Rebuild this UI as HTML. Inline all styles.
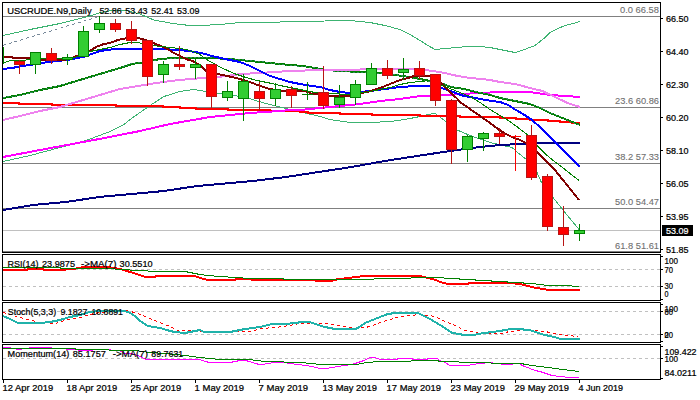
<!DOCTYPE html>
<html><head><meta charset="utf-8"><title>USCRUDE.N9 Daily</title>
<style>html,body{margin:0;padding:0;background:#fff}body{width:700px;height:400px;overflow:hidden}</style></head>
<body>
<svg width="700" height="400" viewBox="0 0 700 400" shape-rendering="crispEdges" font-family="Liberation Sans, sans-serif" style="display:block">
<rect width="700" height="400" fill="#fff"/>
<defs><clipPath id="cm"><rect x="3" y="3" width="657" height="249"/></clipPath></defs>
<g clip-path="url(#cm)">
<rect x="3" y="16" width="657" height="1" fill="#808080"/>
<rect x="3" y="107" width="657" height="1" fill="#808080"/>
<rect x="3" y="163" width="657" height="1" fill="#808080"/>
<rect x="3" y="208" width="657" height="1" fill="#808080"/>
<rect x="3" y="251" width="657" height="1" fill="#808080"/>
<rect x="3" y="230" width="657" height="1" fill="#C0C0C0"/>
<line x1="3" y1="45.3" x2="97" y2="17.1" stroke="#778899" stroke-width="1" stroke-dasharray="3,3"/>
<polyline points="3,35.5 30,29.5 60,23.5 91.6,15.5 95.2,14.5 100,12.5 106,11.5 112,10.5 119,10.5 126.4,10.5 133.6,12.5 138.4,13.5 143.2,15.5 148,17.5 155,20.5 162.4,21.5 172,23.5 190,25.5 200,25.5 220,24.5 240,22.5 260,22.5 300,21.5 350,20.5 370,22.5 385,25.5 400,29.5 410,34.5 420,40.5 428,45.5 435,49.5 445,48.5 458,47.5 466,46.5 480,46.5 490,47.5 505,50.5 515,52.5 522,50.5 527,48.5 535,45.5 545,37.5 550,32.5 558,28.5 565,25.5 573,23.5 580,21.5" fill="none" stroke="#3CB371" stroke-width="1" />
<polyline points="3,161.5 30,155.5 60,147.5 86,140.5 110,131.5 124,124.5 130,119.5 140,112.5 150,105.5 164,96.5 180,91.5 194,89.5 206,91.5 219,93.5 234,95.5 250,98.5 255,100.5 270,104.5 290,109.5 320,116.5 330,119.5 350,122.5 370,122.5 390,121.5 405,119.5 420,116.5 428,114.5 435,113.5 442,118.5 456,129.5 470,135.5 490,142.5 512,147.5 520,154.5 528,160.5 537,172.5 541,181.5 553,197.5 565,212.5 579,229.5" fill="none" stroke="#3CB371" stroke-width="1" />
<polyline points="3,210 33,205 66,202 99,197 131.5,194 164,191 197,186 220,184 253,181 286,177 318.7,172 351.6,167 368,164 384.5,161 417,156 450,151 480,147 500,145 520,144 540,143 580,143" fill="none" stroke="#000080" stroke-width="2" />
<polyline points="3,103 19,103 19,104 52,104 52,105 116,105 116,106 163,106 163,107 180,107 180,108 196,108 196,109 228,109 228,110 270,110 270,111 300,111 300,112 308,112 308,113 340,113 340,114 372,114 372,115 420,115 420,116 460,116 460,117 500,117 500,118 516,118 516,119 530,119 530,120 548,120 548,121 560,121 560,122 572,122 572,123 580,123" fill="none" stroke="#FF0000" stroke-width="2" />
<polyline points="3,157 40,150 94,140 130,133 140,131 170,124 210,117 240,114 250,113 280,111 291,110 300,110 320,108 340,106 360,104 380,101 400,99 420,96 430,96 450,95 460,94 500,92 530,92 550,95 580,97" fill="none" stroke="#FF00FF" stroke-width="2" />
<polyline points="3,98 20,95 40,90 60,86 80,80 100,74 120,68 132,64 145,62 160,59 175,58 190,58 210,58 230,59 260,62 290,65 303,66 315,68 325,70 340,71 360,72 380,73 395,75 410,77 420,79 430,81 441,83 451,87 464,89 476,92 490,95 500,98 515,101 530,104 540,108 550,113 560,117 570,121 580,125" fill="none" stroke="#008000" stroke-width="2" />
<polyline points="3,97.5 20,95.5 40,90.5 60,85.5 80,80.5 100,74.5 120,67.5 132,63.5 145,61.5 160,59.5 175,58.5 190,57.5 210,57.5 230,58.5 260,61.5 290,65.5 303,66.5 315,67.5 325,70.5 340,71.5 360,72.5 380,73.5 395,74.5 410,77.5 420,79.5 430,81.5 441,82.5 451,86.5 464,89.5 476,91.5 490,94.5 500,97.5 515,100.5 530,103.5 540,107.5 550,112.5 560,116.5 570,121.5 580,125.5" fill="none" stroke="#2E8B57" stroke-width="1" stroke-dasharray="2,2"/>
<polyline points="3,120 20,116 40,111 60,107 80,101 100,95 120,89 132,87 150,84 170,81 190,79 205,78 217,77 227.5,76 240,74 260,73 290,71 320,70 340,70 380,69 420,69 425,70 432.5,71 445,73 457.5,76 470,78 482.5,79 490,80 500,82 515,84 530,88 542.5,91 555,97 567.5,103 580,107" fill="none" stroke="#EE82EE" stroke-width="2" />
<polyline points="3,69 12,68 22,66 30,65 41,63 57,61 67,60 83,57 100,51 107,50 116,49 140,49 160,49 180,50 196,52 205,54 212,56 225,59 240,62 250,66 260,71 270,76 280,79 290,82 300,84 312,86 320,87 330,90 340,92 350,93 360,92 370,91 385,89 400,87 416,86 432,86 441,88 451,91 458,94 464,96 476,98 485,100 500,102 508,105 516,110 523,114 532,120 540,127 548,135 556,143 566,153 580,167" fill="none" stroke="#0000FF" stroke-width="2" />
<polyline points="4,57 12,57 13,58 30,58 40,60 62,60 70,59 74,57 77,56 83,54 90,51 96,47 104,44 110,43 118,40 127,38 137,38 142.5,39 153,43 161,46 167.5,49 174,53 180,56 186,59 192.5,61 196,63 202.5,67 206,71 211,73 217,74 227.5,76 240,79 252.5,83 260,86 270,89 282,91 298,91 305,91 312.5,94 320,94 330,96 350,96 355,96 362,93 371,91 380,88 390,84 400,80 408,78 414,76 422,76 430,76 435,78 441,83 449,91 457.5,99 460,102 470,109 480,116 490,123 498,129 504,133 512,137 520,140 526,143 535,150 544,159 554,169 563,180 571,190 579,200" fill="none" stroke="#800000" stroke-width="2" />
<polyline points="4,62.5 11,60.5 22,60.5 30,59.5 40,58.5 62,58.5 75,57.5 83,54.5 90,51.5 100,49.5 110,47.5 120,44.5 130,42.5 138,42.5 147,44.5 160,46.5 171,47.5 187,49.5 195,52.5 200,54.5 205,58.5 217,65.5 227.5,70.5 234,73.5 240,75.5 246,77.5 257,80.5 272,83.5 280,85.5 290,87.5 300,89.5 315,92.5 330,93.5 350,94.5 365,92.5 380,89.5 390,87.5 400,84.5 410,82.5 420,81.5 430,80.5 440,84.5 450,88.5 460,92.5 470,96.5 480,102.5 490,109.5 500,115.5 510,121.5 518,127.5 526,133.5 533,141.5 540,148.5 546,154.5 552,159.5 560,165.5 570,173.5 579,180.5" fill="none" stroke="#008000" stroke-width="1" />
<rect x="3" y="47" width="1" height="17" fill="#008000"/>
<rect x="19" y="60" width="1" height="14" fill="#B81414"/>
<rect x="14" y="61" width="11" height="4" fill="#B81414"/>
<rect x="15" y="62" width="9" height="2" fill="#FF0000"/>
<rect x="35" y="52" width="1" height="22" fill="#008000"/>
<rect x="30" y="52" width="11" height="13" fill="#008000"/>
<rect x="31" y="53" width="9" height="11" fill="#32CD32"/>
<rect x="51" y="48" width="1" height="16" fill="#B81414"/>
<rect x="46" y="53" width="11" height="8" fill="#B81414"/>
<rect x="47" y="54" width="9" height="6" fill="#FF0000"/>
<rect x="67" y="54" width="1" height="11" fill="#008000"/>
<rect x="62" y="57" width="11" height="3" fill="#008000"/>
<rect x="63" y="58" width="9" height="1" fill="#32CD32"/>
<rect x="83" y="26" width="1" height="31" fill="#008000"/>
<rect x="78" y="31" width="11" height="26" fill="#008000"/>
<rect x="79" y="32" width="9" height="24" fill="#32CD32"/>
<rect x="99" y="16" width="1" height="17" fill="#008000"/>
<rect x="94" y="23" width="11" height="7" fill="#008000"/>
<rect x="95" y="24" width="9" height="5" fill="#32CD32"/>
<rect x="115" y="19" width="1" height="13" fill="#B81414"/>
<rect x="110" y="23" width="11" height="7" fill="#B81414"/>
<rect x="111" y="24" width="9" height="5" fill="#FF0000"/>
<rect x="131" y="21" width="1" height="23" fill="#B81414"/>
<rect x="126" y="29" width="11" height="12" fill="#B81414"/>
<rect x="127" y="30" width="9" height="10" fill="#FF0000"/>
<rect x="147" y="40" width="1" height="46" fill="#B81414"/>
<rect x="142" y="40" width="11" height="37" fill="#B81414"/>
<rect x="143" y="41" width="9" height="35" fill="#FF0000"/>
<rect x="163" y="61" width="1" height="22" fill="#008000"/>
<rect x="158" y="64" width="11" height="11" fill="#008000"/>
<rect x="159" y="65" width="9" height="9" fill="#32CD32"/>
<rect x="179" y="46" width="1" height="24" fill="#B81414"/>
<rect x="174" y="64" width="11" height="3" fill="#B81414"/>
<rect x="175" y="65" width="9" height="1" fill="#FF0000"/>
<rect x="195" y="59" width="1" height="20" fill="#008000"/>
<rect x="190" y="64" width="11" height="4" fill="#008000"/>
<rect x="191" y="65" width="9" height="2" fill="#32CD32"/>
<rect x="211" y="64" width="1" height="44" fill="#B81414"/>
<rect x="206" y="64" width="11" height="33" fill="#B81414"/>
<rect x="207" y="65" width="9" height="31" fill="#FF0000"/>
<rect x="227" y="81" width="1" height="20" fill="#008000"/>
<rect x="222" y="91" width="11" height="7" fill="#008000"/>
<rect x="223" y="92" width="9" height="5" fill="#32CD32"/>
<rect x="243" y="74" width="1" height="47" fill="#008000"/>
<rect x="238" y="81" width="11" height="18" fill="#008000"/>
<rect x="239" y="82" width="9" height="16" fill="#32CD32"/>
<rect x="259" y="82" width="1" height="29" fill="#B81414"/>
<rect x="254" y="91" width="11" height="8" fill="#B81414"/>
<rect x="255" y="92" width="9" height="6" fill="#FF0000"/>
<rect x="275" y="83" width="1" height="23" fill="#008000"/>
<rect x="270" y="89" width="11" height="10" fill="#008000"/>
<rect x="271" y="90" width="9" height="8" fill="#32CD32"/>
<rect x="291" y="86" width="1" height="22" fill="#B81414"/>
<rect x="286" y="89" width="11" height="7" fill="#B81414"/>
<rect x="287" y="90" width="9" height="5" fill="#FF0000"/>
<rect x="307" y="82" width="1" height="18" fill="#008000"/>
<rect x="302" y="94" width="11" height="1" fill="#008000"/>
<rect x="323" y="66" width="1" height="43" fill="#B81414"/>
<rect x="318" y="92" width="11" height="14" fill="#B81414"/>
<rect x="319" y="93" width="9" height="12" fill="#FF0000"/>
<rect x="339" y="85" width="1" height="23" fill="#008000"/>
<rect x="334" y="97" width="11" height="8" fill="#008000"/>
<rect x="335" y="98" width="9" height="6" fill="#32CD32"/>
<rect x="355" y="80" width="1" height="25" fill="#008000"/>
<rect x="350" y="84" width="11" height="14" fill="#008000"/>
<rect x="351" y="85" width="9" height="12" fill="#32CD32"/>
<rect x="371" y="63" width="1" height="22" fill="#008000"/>
<rect x="366" y="68" width="11" height="17" fill="#008000"/>
<rect x="367" y="69" width="9" height="15" fill="#32CD32"/>
<rect x="387" y="60" width="1" height="19" fill="#B81414"/>
<rect x="382" y="68" width="11" height="8" fill="#B81414"/>
<rect x="383" y="69" width="9" height="6" fill="#FF0000"/>
<rect x="403" y="58" width="1" height="22" fill="#008000"/>
<rect x="398" y="69" width="11" height="4" fill="#008000"/>
<rect x="399" y="70" width="9" height="2" fill="#32CD32"/>
<rect x="419" y="61" width="1" height="18" fill="#B81414"/>
<rect x="414" y="68" width="11" height="8" fill="#B81414"/>
<rect x="415" y="69" width="9" height="6" fill="#FF0000"/>
<rect x="435" y="74" width="1" height="32" fill="#B81414"/>
<rect x="430" y="74" width="11" height="27" fill="#B81414"/>
<rect x="431" y="75" width="9" height="25" fill="#FF0000"/>
<rect x="451" y="99" width="1" height="65" fill="#B81414"/>
<rect x="446" y="100" width="11" height="50" fill="#B81414"/>
<rect x="447" y="101" width="9" height="48" fill="#FF0000"/>
<rect x="467" y="135" width="1" height="27" fill="#008000"/>
<rect x="462" y="136" width="11" height="14" fill="#008000"/>
<rect x="463" y="137" width="9" height="12" fill="#32CD32"/>
<rect x="483" y="132" width="1" height="19" fill="#008000"/>
<rect x="478" y="133" width="11" height="6" fill="#008000"/>
<rect x="479" y="134" width="9" height="4" fill="#32CD32"/>
<rect x="499" y="128" width="1" height="16" fill="#B81414"/>
<rect x="494" y="133" width="11" height="4" fill="#B81414"/>
<rect x="495" y="134" width="9" height="2" fill="#FF0000"/>
<rect x="515" y="135" width="1" height="36" fill="#FF0000"/>
<rect x="510" y="136" width="11" height="1" fill="#FF0000"/>
<rect x="531" y="125" width="1" height="55" fill="#B81414"/>
<rect x="526" y="135" width="11" height="43" fill="#B81414"/>
<rect x="527" y="136" width="9" height="41" fill="#FF0000"/>
<rect x="547" y="174" width="1" height="57" fill="#B81414"/>
<rect x="542" y="176" width="11" height="51" fill="#B81414"/>
<rect x="543" y="177" width="9" height="49" fill="#FF0000"/>
<rect x="563" y="206" width="1" height="40" fill="#B81414"/>
<rect x="558" y="227" width="11" height="8" fill="#B81414"/>
<rect x="559" y="228" width="9" height="6" fill="#FF0000"/>
<rect x="579" y="224" width="1" height="17" fill="#008000"/>
<rect x="574" y="230" width="11" height="4" fill="#008000"/>
<rect x="575" y="231" width="9" height="2" fill="#32CD32"/>
</g>
<rect x="2" y="2" width="659" height="1" fill="#000"/>
<rect x="2" y="252" width="659" height="1" fill="#000"/>
<rect x="2" y="2" width="1" height="251" fill="#000"/>
<rect x="660" y="2" width="1" height="251" fill="#000"/>
<rect x="2" y="254" width="659" height="1" fill="#000"/>
<rect x="2" y="300" width="659" height="1" fill="#000"/>
<rect x="2" y="254" width="1" height="47" fill="#000"/>
<rect x="660" y="254" width="1" height="47" fill="#000"/>
<rect x="2" y="302" width="659" height="1" fill="#000"/>
<rect x="2" y="342" width="659" height="1" fill="#000"/>
<rect x="2" y="302" width="1" height="41" fill="#000"/>
<rect x="660" y="302" width="1" height="41" fill="#000"/>
<rect x="2" y="344" width="659" height="1" fill="#000"/>
<rect x="2" y="379" width="659" height="1" fill="#000"/>
<rect x="2" y="344" width="1" height="36" fill="#000"/>
<rect x="660" y="344" width="1" height="36" fill="#000"/>
<rect x="661" y="18" width="2" height="1" fill="#000"/>
<text x="666" y="21.7" font-size="9.7" fill="#000" stroke="#000" stroke-width="0.24" text-anchor="start" textLength="22.5" lengthAdjust="spacingAndGlyphs" >66.50</text>
<rect x="661" y="51" width="2" height="1" fill="#000"/>
<text x="666" y="54.7" font-size="9.7" fill="#000" stroke="#000" stroke-width="0.24" text-anchor="start" textLength="22.5" lengthAdjust="spacingAndGlyphs" >64.40</text>
<rect x="661" y="84" width="2" height="1" fill="#000"/>
<text x="666" y="87.7" font-size="9.7" fill="#000" stroke="#000" stroke-width="0.24" text-anchor="start" textLength="22.5" lengthAdjust="spacingAndGlyphs" >62.30</text>
<rect x="661" y="117" width="2" height="1" fill="#000"/>
<text x="666" y="120.7" font-size="9.7" fill="#000" stroke="#000" stroke-width="0.24" text-anchor="start" textLength="22.5" lengthAdjust="spacingAndGlyphs" >60.20</text>
<rect x="661" y="150" width="2" height="1" fill="#000"/>
<text x="666" y="153.7" font-size="9.7" fill="#000" stroke="#000" stroke-width="0.24" text-anchor="start" textLength="22.5" lengthAdjust="spacingAndGlyphs" >58.10</text>
<rect x="661" y="183" width="2" height="1" fill="#000"/>
<text x="666" y="186.7" font-size="9.7" fill="#000" stroke="#000" stroke-width="0.24" text-anchor="start" textLength="22.5" lengthAdjust="spacingAndGlyphs" >56.05</text>
<rect x="661" y="216" width="2" height="1" fill="#000"/>
<text x="666" y="219.7" font-size="9.7" fill="#000" stroke="#000" stroke-width="0.24" text-anchor="start" textLength="22.5" lengthAdjust="spacingAndGlyphs" >53.95</text>
<rect x="661" y="249" width="2" height="1" fill="#000"/>
<text x="666" y="252.7" font-size="9.7" fill="#000" stroke="#000" stroke-width="0.24" text-anchor="start" textLength="22.5" lengthAdjust="spacingAndGlyphs" >51.85</text>
<rect x="662" y="225" width="31" height="11" fill="#000"/>
<text x="666" y="233.7" font-size="9.7" fill="#fff" stroke="#fff" stroke-width="0.24" text-anchor="start" textLength="22.5" lengthAdjust="spacingAndGlyphs" >53.09</text>
<text x="620" y="13.2" font-size="9.7" fill="#707070" stroke="#707070" stroke-width="0.1" text-anchor="start" textLength="39" lengthAdjust="spacingAndGlyphs" >0.0 66.58</text>
<text x="615" y="104.2" font-size="9.7" fill="#707070" stroke="#707070" stroke-width="0.1" text-anchor="start" textLength="44" lengthAdjust="spacingAndGlyphs" >23.6 60.86</text>
<text x="615" y="160.2" font-size="9.7" fill="#707070" stroke="#707070" stroke-width="0.1" text-anchor="start" textLength="44" lengthAdjust="spacingAndGlyphs" >38.2 57.33</text>
<text x="615" y="205.2" font-size="9.7" fill="#707070" stroke="#707070" stroke-width="0.1" text-anchor="start" textLength="44" lengthAdjust="spacingAndGlyphs" >50.0 54.47</text>
<text x="615" y="249.4" font-size="9.7" fill="#707070" stroke="#707070" stroke-width="0.1" text-anchor="start" textLength="44" lengthAdjust="spacingAndGlyphs" >61.8 51.61</text>
<text x="7.3" y="13.5" font-size="9.7" fill="#000" stroke="#000" stroke-width="0.24" text-anchor="start" textLength="84.3" lengthAdjust="spacingAndGlyphs" >USCRUDE.N9,Daily</text>
<text x="99.4" y="13.5" font-size="9.7" fill="#000" stroke="#000" stroke-width="0.24" text-anchor="start" textLength="22.4" lengthAdjust="spacingAndGlyphs" >52.86</text>
<text x="125.2" y="13.5" font-size="9.7" fill="#000" stroke="#000" stroke-width="0.24" text-anchor="start" textLength="22.4" lengthAdjust="spacingAndGlyphs" >53.43</text>
<text x="151.2" y="13.5" font-size="9.7" fill="#000" stroke="#000" stroke-width="0.24" text-anchor="start" textLength="22.4" lengthAdjust="spacingAndGlyphs" >52.41</text>
<text x="177" y="13.5" font-size="9.7" fill="#000" stroke="#000" stroke-width="0.24" text-anchor="start" textLength="22.4" lengthAdjust="spacingAndGlyphs" >53.09</text>
<line x1="3" y1="269.5" x2="660" y2="269.5" stroke="#C0C0C0" stroke-width="1" stroke-dasharray="3,3"/>
<line x1="3" y1="286.5" x2="660" y2="286.5" stroke="#C0C0C0" stroke-width="1" stroke-dasharray="3,3"/>
<polyline points="3,270 27,270 28,269 43,269 44,270 60,270 73,269 84,267 108,267 120,269 130,272 140,275 145,277 155,277 156,276 195,276 200,278 208,280 235,280 236,279 250,279 252,280 283,280 284,280 315,280 316,281 332,281 333,280 340,279 348,278 356,277 364,276 420,276 424,277 428,278 432,279 436,280 440,282 444,283 448,284 460,284 461,284 468,284 469,283 515,283 516,284 520,284 524,285 528,286 532,287 536,288 544,289 548,290 580,290" fill="none" stroke="#FF0000" stroke-width="2" />
<polyline points="3,267.5 60,267.5 61,268.5 110,268.5 120,269.5 140,270.5 155,271.5 185,271.5 190,272.5 200,274.5 208,275.5 220,276.5 235,277.5 250,278.5 260,278.5 283,278.5 284,279.5 340,279.5 370,279.5 378,278.5 410,278.5 412,277.5 443,277.5 445,278.5 459,278.5 460,279.5 475,279.5 476,280.5 491,280.5 492,281.5 507,281.5 508,282.5 523,282.5 524,283.5 535,283.5 537,284.5 543,284.5 545,285.5 571,285.5 573,286.5 579,286.5" fill="none" stroke="#008000" stroke-width="1" />
<text x="7.6" y="267.2" font-size="9.7" fill="#000" stroke="#000" stroke-width="0.24" text-anchor="start" textLength="31" lengthAdjust="spacingAndGlyphs" >RSI(14)</text>
<text x="42" y="267.2" font-size="9.7" fill="#000" stroke="#000" stroke-width="0.24" text-anchor="start" textLength="33" lengthAdjust="spacingAndGlyphs" >23.9875</text>
<text x="81" y="267.2" font-size="9.7" fill="#000" stroke="#000" stroke-width="0.24" text-anchor="start" textLength="35.5" lengthAdjust="spacingAndGlyphs" >-&gt;MA(7)</text>
<text x="119.6" y="267.2" font-size="9.7" fill="#000" stroke="#000" stroke-width="0.24" text-anchor="start" textLength="33" lengthAdjust="spacingAndGlyphs" >30.5510</text>
<rect x="661" y="256" width="2" height="1" fill="#000"/>
<rect x="661" y="269" width="2" height="1" fill="#000"/>
<rect x="661" y="286" width="2" height="1" fill="#000"/>
<rect x="661" y="299" width="2" height="1" fill="#000"/>
<text x="664.5" y="264.4" font-size="9.7" fill="#000" stroke="#000" stroke-width="0.24" text-anchor="start" textLength="13.5" lengthAdjust="spacingAndGlyphs" >100</text>
<text x="664.5" y="272.7" font-size="9.7" fill="#000" stroke="#000" stroke-width="0.24" text-anchor="start" textLength="8.5" lengthAdjust="spacingAndGlyphs" >70</text>
<text x="664.5" y="289.4" font-size="9.7" fill="#000" stroke="#000" stroke-width="0.24" text-anchor="start" textLength="8.5" lengthAdjust="spacingAndGlyphs" >30</text>
<text x="664.5" y="296.7" font-size="9.7" fill="#000" stroke="#000" stroke-width="0.24" text-anchor="start" textLength="4" lengthAdjust="spacingAndGlyphs" >0</text>
<line x1="3" y1="311.5" x2="660" y2="311.5" stroke="#C0C0C0" stroke-width="1" stroke-dasharray="3,3"/>
<line x1="3" y1="334.5" x2="660" y2="334.5" stroke="#C0C0C0" stroke-width="1" stroke-dasharray="3,3"/>
<polyline points="3,312.5 20,317.5 40,322.5 55,323.5 65,320.5 80,317.5 90,314.5 100,312.5 110,311.5 125,310.5 135,312.5 145,316.5 160,322.5 170,326.5 178,330.5 190,330.5 200,331.5 215,331.5 230,332.5 240,331.5 250,331.5 262,328.5 275,327.5 290,325.5 300,323.5 315,323.5 325,323.5 340,325.5 352,327.5 358,328.5 365,327.5 370,326.5 380,322.5 390,319.5 400,316.5 410,315.5 420,314.5 430,315.5 437,317.5 445,321.5 455,325.5 465,330.5 472,331.5 480,333.5 490,333.5 500,333.5 510,331.5 520,330.5 535,330.5 545,331.5 555,333.5 560,334.5 568,335.5 578,336.5" fill="none" stroke="#FF0000" stroke-width="1" stroke-dasharray="3,3"/>
<polyline points="3,316 10,319 18,323 40,323 50,322 60,320 70,317 80,315 90,312 100,311 125,311 130,313 135,316 140,321 148,326 160,328 170,331 175,332 185,333 190,332 200,330 204,332 212,332 230,332 235,331 245,329 260,327 272,324 285,324 295,323 302,322 310,322 315,324 325,327 335,329 355,329 358,328 365,323 370,321 380,317 388,314 395,313 418,313 422,315 430,319 440,325 448,330 452,333 460,334 463,335 475,335 477,334 485,333 492,332 500,331 505,330 512,329 522,329 525,330 530,330 535,332 545,335 550,336 558,338 560,339 580,339" fill="none" stroke="#20B2AA" stroke-width="2" />
<text x="7.8" y="315.1" font-size="9.7" fill="#000" stroke="#000" stroke-width="0.24" text-anchor="start" textLength="48.3" lengthAdjust="spacingAndGlyphs" >Stoch(5,3,3)</text>
<text x="60.4" y="315.1" font-size="9.7" fill="#000" stroke="#000" stroke-width="0.24" text-anchor="start" textLength="27" lengthAdjust="spacingAndGlyphs" >9.1827</text>
<text x="91.4" y="315.1" font-size="9.7" fill="#000" stroke="#000" stroke-width="0.24" text-anchor="start" textLength="31.6" lengthAdjust="spacingAndGlyphs" >10.8891</text>
<rect x="661" y="304" width="2" height="1" fill="#000"/>
<rect x="661" y="311" width="2" height="1" fill="#000"/>
<rect x="661" y="334" width="2" height="1" fill="#000"/>
<rect x="661" y="341" width="2" height="1" fill="#000"/>
<text x="664.5" y="312.0" font-size="9.7" fill="#000" stroke="#000" stroke-width="0.24" text-anchor="start" textLength="13.5" lengthAdjust="spacingAndGlyphs" >100</text>
<text x="664.5" y="314.7" font-size="9.7" fill="#000" stroke="#000" stroke-width="0.24" text-anchor="start" textLength="8.5" lengthAdjust="spacingAndGlyphs" >80</text>
<text x="664.5" y="338.2" font-size="9.7" fill="#000" stroke="#000" stroke-width="0.24" text-anchor="start" textLength="8.5" lengthAdjust="spacingAndGlyphs" >20</text>
<text x="664.5" y="338.2" font-size="9.7" fill="#000" stroke="#000" stroke-width="0.24" text-anchor="start" textLength="4" lengthAdjust="spacingAndGlyphs" >0</text>
<line x1="3" y1="358.5" x2="660" y2="358.5" stroke="#C0C0C0" stroke-width="1" stroke-dasharray="3,3"/>
<polyline points="3,347.5 9,347.5 18,349.5 33,347.5 43,347.5 60,348.5 84,350.5 102,349.5 120,350.5 124,353.5 132,353.5 140,356.5 146,359.5 195,359.5 200,359.5 205,361.5 210,362.5 230,362.5 235,361.5 240,360.5 245,360.5 250,361.5 255,363.5 260,364.5 262,364.5 268,363.5 275,362.5 285,362.5 290,363.5 298,364.5 305,365.5 312,366.5 320,368.5 326,368.5 332,367.5 338,366.5 345,365.5 352,364.5 358,362.5 364,360.5 370,357.5 375,357.5 380,359.5 385,359.5 395,359.5 400,358.5 410,358.5 415,359.5 425,359.5 430,358.5 437,358.5 440,360.5 445,362.5 450,365.5 452,365.5 468,365.5 472,364.5 480,363.5 490,362.5 495,363.5 506,364.5 520,363.5 522,365.5 525,366.5 530,368.5 535,370.5 540,371.5 546,373.5 552,375.5 560,376.5 570,377.5 579,377.5" fill="none" stroke="#FF00FF" stroke-width="1" />
<polyline points="3,348.5 75,348.5 76,349.5 108,349.5 110,350.5 135,350.5 150,352.5 165,353.5 185,355.5 200,357.5 210,358.5 220,359.5 252,359.5 254,360.5 268,361.5 300,362.5 312,363.5 320,364.5 358,364.5 360,363.5 368,362.5 378,361.5 410,361.5 412,360.5 437,360.5 440,361.5 458,361.5 460,362.5 490,362.5 492,363.5 522,363.5 525,364.5 532,365.5 540,366.5 548,367.5 555,368.5 563,369.5 570,370.5 579,371.5" fill="none" stroke="#008000" stroke-width="1" />
<text x="7.6" y="356.7" font-size="9.7" fill="#000" stroke="#000" stroke-width="0.24" text-anchor="start" textLength="61.7" lengthAdjust="spacingAndGlyphs" >Momentum(14)</text>
<text x="72.8" y="356.7" font-size="9.7" fill="#000" stroke="#000" stroke-width="0.24" text-anchor="start" textLength="33" lengthAdjust="spacingAndGlyphs" >85.1757</text>
<text x="112.7" y="356.7" font-size="9.7" fill="#000" stroke="#000" stroke-width="0.24" text-anchor="start" textLength="35.3" lengthAdjust="spacingAndGlyphs" >-&gt;MA(7)</text>
<text x="151.3" y="356.7" font-size="9.7" fill="#000" stroke="#000" stroke-width="0.24" text-anchor="start" textLength="32" lengthAdjust="spacingAndGlyphs" >89.7631</text>
<rect x="661" y="346" width="2" height="1" fill="#000"/>
<rect x="661" y="358" width="2" height="1" fill="#000"/>
<rect x="661" y="378" width="2" height="1" fill="#000"/>
<text x="664.5" y="354.7" font-size="9.7" fill="#000" stroke="#000" stroke-width="0.24" text-anchor="start" textLength="32" lengthAdjust="spacingAndGlyphs" >109.422</text>
<text x="664.5" y="361.7" font-size="9.7" fill="#000" stroke="#000" stroke-width="0.24" text-anchor="start" textLength="13.5" lengthAdjust="spacingAndGlyphs" >100</text>
<text x="664.5" y="375.7" font-size="9.7" fill="#000" stroke="#000" stroke-width="0.24" text-anchor="start" textLength="32" lengthAdjust="spacingAndGlyphs" >84.0211</text>
<rect x="3" y="380" width="1" height="3" fill="#000"/>
<text x="2.6" y="391.4" font-size="9.7" fill="#000" stroke="#000" stroke-width="0.24" text-anchor="start" textLength="50.5" lengthAdjust="spacingAndGlyphs" >12 Apr 2019</text>
<rect x="67" y="380" width="1" height="3" fill="#000"/>
<text x="66.6" y="391.4" font-size="9.7" fill="#000" stroke="#000" stroke-width="0.24" text-anchor="start" textLength="50.5" lengthAdjust="spacingAndGlyphs" >18 Apr 2019</text>
<rect x="131" y="380" width="1" height="3" fill="#000"/>
<text x="130.6" y="391.4" font-size="9.7" fill="#000" stroke="#000" stroke-width="0.24" text-anchor="start" textLength="50.5" lengthAdjust="spacingAndGlyphs" >25 Apr 2019</text>
<rect x="195" y="380" width="1" height="3" fill="#000"/>
<text x="194.6" y="391.4" font-size="9.7" fill="#000" stroke="#000" stroke-width="0.24" text-anchor="start" textLength="49.5" lengthAdjust="spacingAndGlyphs" >1 May 2019</text>
<rect x="259" y="380" width="1" height="3" fill="#000"/>
<text x="258.6" y="391.4" font-size="9.7" fill="#000" stroke="#000" stroke-width="0.24" text-anchor="start" textLength="49.5" lengthAdjust="spacingAndGlyphs" >7 May 2019</text>
<rect x="323" y="380" width="1" height="3" fill="#000"/>
<text x="322.6" y="391.4" font-size="9.7" fill="#000" stroke="#000" stroke-width="0.24" text-anchor="start" textLength="54.5" lengthAdjust="spacingAndGlyphs" >13 May 2019</text>
<rect x="387" y="380" width="1" height="3" fill="#000"/>
<text x="386.6" y="391.4" font-size="9.7" fill="#000" stroke="#000" stroke-width="0.24" text-anchor="start" textLength="54.3" lengthAdjust="spacingAndGlyphs" >17 May 2019</text>
<rect x="451" y="380" width="1" height="3" fill="#000"/>
<text x="450.6" y="391.4" font-size="9.7" fill="#000" stroke="#000" stroke-width="0.24" text-anchor="start" textLength="54.3" lengthAdjust="spacingAndGlyphs" >23 May 2019</text>
<rect x="515" y="380" width="1" height="3" fill="#000"/>
<text x="514.6" y="391.4" font-size="9.7" fill="#000" stroke="#000" stroke-width="0.24" text-anchor="start" textLength="54.3" lengthAdjust="spacingAndGlyphs" >29 May 2019</text>
<rect x="579" y="380" width="1" height="3" fill="#000"/>
<text x="578.6" y="391.4" font-size="9.7" fill="#000" stroke="#000" stroke-width="0.24" text-anchor="start" textLength="44.5" lengthAdjust="spacingAndGlyphs" >4 Jun 2019</text>
</svg>
</body></html>
